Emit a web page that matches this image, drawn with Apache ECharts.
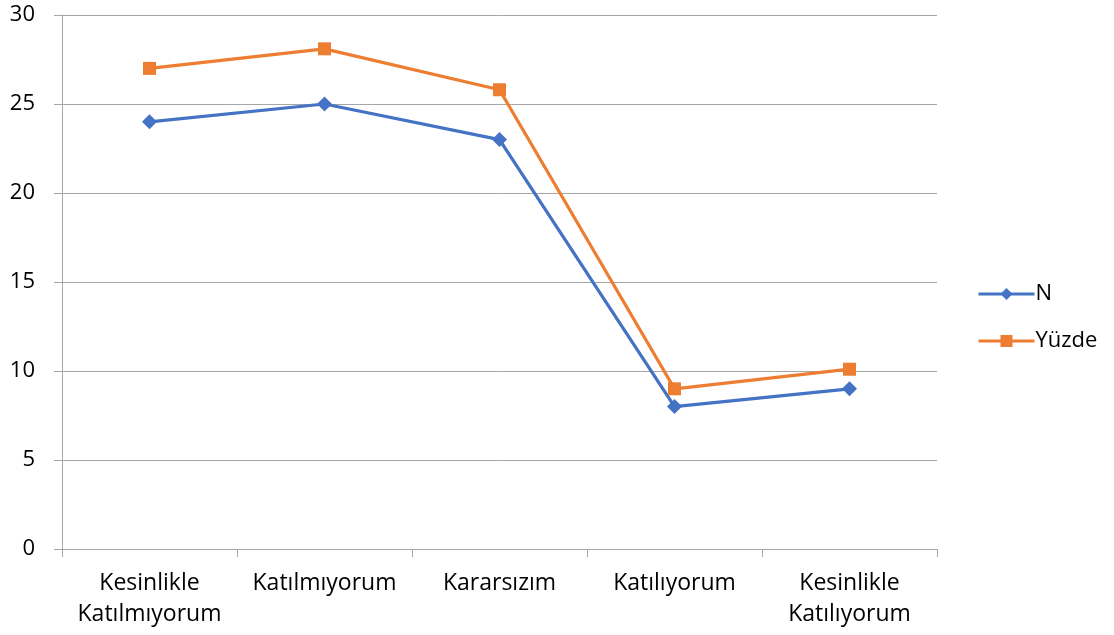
<!DOCTYPE html>
<html>
<head>
<meta charset="utf-8">
<script src="https://cdn.jsdelivr.net/npm/echarts@6/dist/echarts.min.js"></script>
<style>
  html, body { margin: 0; padding: 0; background: #fff; }
  #chart { width: 1114px; height: 635px; }
</style>
</head>
<body>
<div id="chart"></div>
<script>
// kategoriler ve seriler
const categories = ['Kesinlikle\nKatılmıyorum', 'Katılmıyorum', 'Kararsızım', 'Katılıyorum', 'Kesinlikle\nKatılıyorum']
const nValues = [24, 25, 23, 8, 9]
const yuzdeValues = [27.0, 28.1, 25.8, 9.0, 10.1]
const yTicks = [0, 5, 10, 15, 20, 25, 30]

const font = '"Open Sans", sans-serif'
const chart = echarts.init(document.getElementById('chart'))

chart.setOption({
  animation: false,
  textStyle: { fontFamily: font },
  grid: { left: 62, right: 177, top: 15, bottom: 86 },
  legend: {
    orient: 'vertical',
    left: 972,
    top: 278,
    itemWidth: 56,
    itemHeight: 15,
    itemGap: 25,
    lineStyle: { width: 3 },
    textStyle: { fontSize: 22, color: '#000', fontFamily: font, padding: [0, 0, 0, -4] },
    data: ['N', 'Yüzde']
  },
  xAxis: {
    type: 'category',
    data: categories,
    boundaryGap: true,
    axisLine: { lineStyle: { color: '#a6a6a6', width: 1 } },
    axisTick: { show: true, length: 8, lineStyle: { color: '#a6a6a6' } },
    axisLabel: { fontSize: 23, color: '#000', margin: 19, lineHeight: 31, interval: 0, fontFamily: font }
  },
  yAxis: {
    type: 'value',
    min: yTicks[0],
    max: yTicks[yTicks.length - 1],
    interval: 5,
    axisLine: { show: true, lineStyle: { color: '#a6a6a6' } },
    axisTick: { show: true, length: 8, lineStyle: { color: '#a6a6a6' } },
    axisLabel: { fontSize: 22, color: '#000', margin: 27, fontFamily: font },
    splitLine: { lineStyle: { color: '#a6a6a6', width: 1 } }
  },
  series: [
    {
      name: 'N',
      type: 'line',
      data: nValues,
      symbol: 'diamond',
      symbolSize: 15,
      itemStyle: { color: '#4472c4' },
      lineStyle: { color: '#4472c4', width: 3.25 }
    },
    {
      name: 'Yüzde',
      type: 'line',
      data: yuzdeValues,
      symbol: 'rect',
      symbolSize: 13,
      itemStyle: { color: '#ed7d31' },
      lineStyle: { color: '#ed7d31', width: 3.25 }
    }
  ]
})
</script>
</body>
</html>
